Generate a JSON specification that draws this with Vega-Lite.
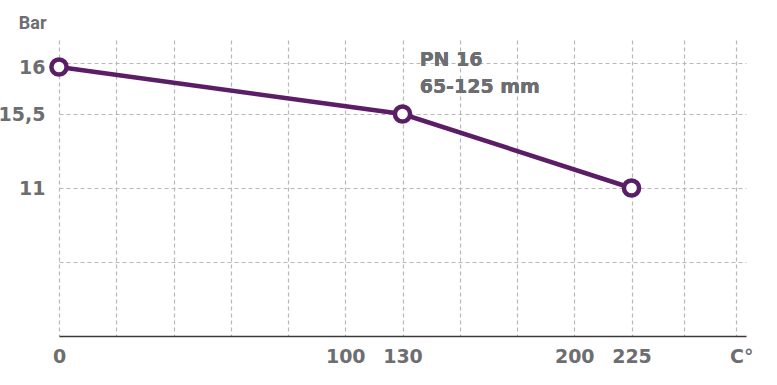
{
  "$schema": "https://vega.github.io/schema/vega-lite/v6.json",
  "autosize": "none",
  "width": 687,
  "height": 296,
  "padding": {"left": 59, "top": 40, "right": 31, "bottom": 49},
  "background": "white",
  "config": {
    "view": {"stroke": null},
    "axis": {
      "labelFont": "DejaVu Sans",
      "labelFontWeight": "bold",
      "labelFontSize": 19,
      "labelColor": "#6d6e71",
      "titleFont": "Roboto",
      "titleFontWeight": "bold",
      "titleColor": "#6d6e71",
      "gridColor": "#b8b8b8",
      "gridDash": [4, 3],
      "gridWidth": 1.2,
      "ticks": false,
      "labelOverlap": false,
      "labelFlush": false
    }
  },
  "data": {
    "values": [
      {"temp": 0, "bar": 16},
      {"temp": 130, "bar": 15.5},
      {"temp": 225, "bar": 11}
    ]
  },
  "layer": [
    {
      "mark": {"type": "line", "color": "#5b1d66", "strokeWidth": 4.5},
      "encoding": {
        "x": {
          "field": "temp",
          "type": "quantitative",
          "scale": {"domain": [0, 100, 130, 200, 225, 275], "range": [0, 286.25, 343.5, 515.25, 572.5, 687]},
          "axis": {
            "title": null,
            "values": [0, 20, 40, 60, 80, 100, 130, 153.333, 176.667, 200, 225, 250, 275],
            "labelExpr": "indexof([0,100,130,200,225], datum.value) >= 0 ? datum.value : (datum.value == 275 ? 'C°' : '')",
            "labelAlign": {"condition": {"test": "datum.value == 275", "value": "left"}, "value": "center"},
            "labelOffset": {"condition": {"test": "datum.value == 275", "value": -6}, "value": 0},
            "domain": true,
            "domainColor": "#3a3a3a",
            "domainWidth": 1.5,
            "labelPadding": 11
          }
        },
        "y": {
          "field": "bar",
          "type": "quantitative",
          "scale": {"domain": [0, 11, 15.5, 16, 16.3], "range": [296, 148, 74, 27, 0]},
          "axis": {
            "values": [5.5, 11, 15.5, 16, 16.3],
            "labelExpr": "datum.value == 15.5 ? '15,5' : (datum.value == 16 || datum.value == 11 ? datum.value : '')",
            "domain": false,
            "labelPadding": 14,
            "gridOpacity": {"condition": {"test": "datum.value == 16", "value": 0}, "value": 1},
            "title": "Bar",
            "titleAngle": 0,
            "titleFontSize": 18,
            "titleAlign": "right",
            "titleBaseline": "alphabetic",
            "titleX": -13,
            "titleY": -12
          }
        }
      }
    },
    {
      "mark": {"type": "point", "filled": true, "fill": "white", "stroke": "#5b1d66", "strokeWidth": 4.5, "size": 230, "opacity": 1},
      "encoding": {
        "x": {"field": "temp", "type": "quantitative"},
        "y": {"field": "bar", "type": "quantitative"}
      }
    },
    {
      "mark": {"type": "text", "align": "left", "baseline": "alphabetic", "font": "DejaVu Sans", "fontWeight": "bold", "fontSize": 19, "color": "#6d6e71", "lineHeight": 27},
      "encoding": {
        "x": {"datum": 137},
        "y": {"datum": 16.04},
        "text": {"value": ["PN 16", "65-125 mm"]}
      }
    }
  ]
}
